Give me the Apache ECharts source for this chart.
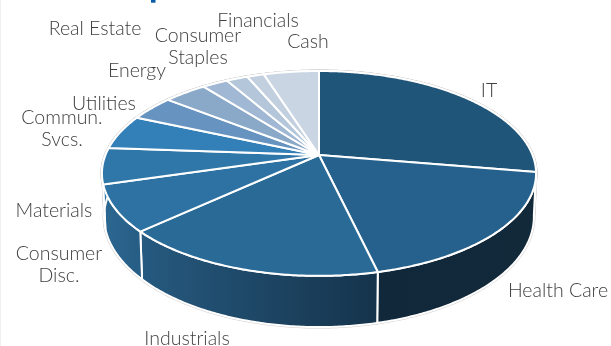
<!DOCTYPE html>
<html>
<head>
<meta charset="utf-8">
<style>html,body{margin:0;padding:0;background:#fff}#chart{width:611px;height:346px}</style>
<script src="https://cdn.jsdelivr.net/npm/echarts@6/dist/echarts.min.js"></script>
</head>
<body>
<div id="chart"></div>
<script>
// Sector weights, clockwise from twelve o'clock (percent).
const categories = ['IT','Health Care','Industrials','Consumer\nDisc.','Materials','Commun.\nSvcs.','Utilities','Energy','Real Estate','Consumer\nStaples','Financials','Cash'];
const weights = [27.7,18.7,16.8,7.3,5.7,5.5,4.0,3.8,2.3,1.9,1.5,4.9];

// Face and wall colours per sector.
const faceColors = ['#1f5579','#25618c','#2a6a97','#2d72a2','#2f76a9','#337fb7','#6693bf','#8aa9c9','#a0b8d3','#b4c6da','#c2cfdf','#c9d5e3'];
const wallFrom = ['#1f5579','#10283a','#265a80','#2c6892','#2f76a9','#337fb7','#6693bf','#8aa9c9','#a0b8d3','#b4c6da','#c2cfdf','#c9d5e3'];
const wallTo = ['#1f5579','#12293a','#15334b','#265c84','#2f76a9','#337fb7','#6693bf','#8aa9c9','#a0b8d3','#b4c6da','#c2cfdf','#c9d5e3'];

// Label centres in pixels, same order as the categories.
const labelCentres = [[489,91],[558,291],[187,339],[59,265],[54,211],[62,129],[104,104],[137,71],[95,29],[198,47],[258,21],[308,42]];

// Perspective disc: apex position, radii, foreshortening and wall height.
const disc = {cx:319, cy:155, rx:213.5, ry:99.1, persp:0.18, wall:42, wallShrink:0.99};
const TOTAL = weights.reduce((a,b)=>a+b,0);

function sliceAngles(i){
  const before = weights.slice(0,i).reduce((a,b)=>a+b,0);
  return [before/TOTAL*2*Math.PI,(before+weights[i])/TOTAL*2*Math.PI];
}
function project(theta){
  const u=Math.sin(theta), v=-Math.cos(theta), s=1/(1-disc.persp*v);
  return {x:disc.cx+disc.rx*u*s, y:disc.cy+disc.ry*v*s, s};
}
function lowerEdge(theta){
  const p=project(theta);
  return [disc.cx+(p.x-disc.cx)*disc.wallShrink, p.y+disc.wall*p.s];
}
function arcAngles(a,b){
  const n=Math.max(4,Math.ceil((b-a)/0.01)), out=[];
  for(let k=0;k<=n;k++) out.push(a+(b-a)*k/n);
  return out;
}
function facePoints(i){
  const [a,b]=sliceAngles(i);
  return [[disc.cx,disc.cy]].concat(arcAngles(a,b).map(t=>{const p=project(t);return [p.x,p.y];}));
}
function wallPoints(i){
  const [a,b]=sliceAngles(i), arc=arcAngles(a,b);
  return arc.map(t=>{const p=project(t);return [p.x,p.y];}).concat(arc.slice().reverse().map(lowerEdge));
}

const sliceData = weights.map((w,i)=>({name:categories[i],value:w}));

function haloItem(params){
  const i=params.dataIndex, st={fill:'#cfcfcf',stroke:'#cfcfcf',lineWidth:3,lineJoin:'round'};
  return {type:'group',children:[
    {type:'polygon',shape:{points:wallPoints(i)},style:st},
    {type:'polygon',shape:{points:facePoints(i)},style:st}
  ]};
}
function wallItem(params){
  const i=params.dataIndex;
  return {type:'polygon',shape:{points:wallPoints(i)},style:{
    fill:{type:'linear',x:0,y:0,x2:1,y2:0,colorStops:[{offset:0,color:wallFrom[i]},{offset:1,color:wallTo[i]}]},
    stroke:'#fff',lineWidth:2,lineJoin:'round'
  }};
}
function faceItem(params){
  const i=params.dataIndex, c=labelCentres[i];
  return {type:'group',children:[
    {type:'polygon',shape:{points:facePoints(i)},style:{fill:faceColors[i],stroke:'#fff',lineWidth:2,lineJoin:'round'}},
    {type:'text',x:c[0],y:c[1],style:{text:categories[i],fill:'#404040',font:'300 19.5px Lato',lineHeight:22,textAlign:'center',textVerticalAlign:'middle'}}
  ]};
}

const chart=echarts.init(document.getElementById('chart'),null,{renderer:'canvas'});
chart.setOption({
  animation:false,
  backgroundColor:'#fff',
  graphic:[
    {type:'rect',shape:{x:0,y:0,width:1,height:346},style:{fill:'#f0f0f0'}},
    {type:'rect',shape:{x:151,y:0,width:4.5,height:2.7},style:{fill:'#0a5cab'}}
  ],
  series:[
    {type:'custom',coordinateSystem:'none',silent:true,data:sliceData,renderItem:haloItem,z:1},
    {type:'custom',coordinateSystem:'none',silent:true,data:sliceData,renderItem:wallItem,z:2},
    {type:'custom',coordinateSystem:'none',silent:true,data:sliceData,renderItem:faceItem,z:3}
  ]
});
</script>
</body>
</html>
